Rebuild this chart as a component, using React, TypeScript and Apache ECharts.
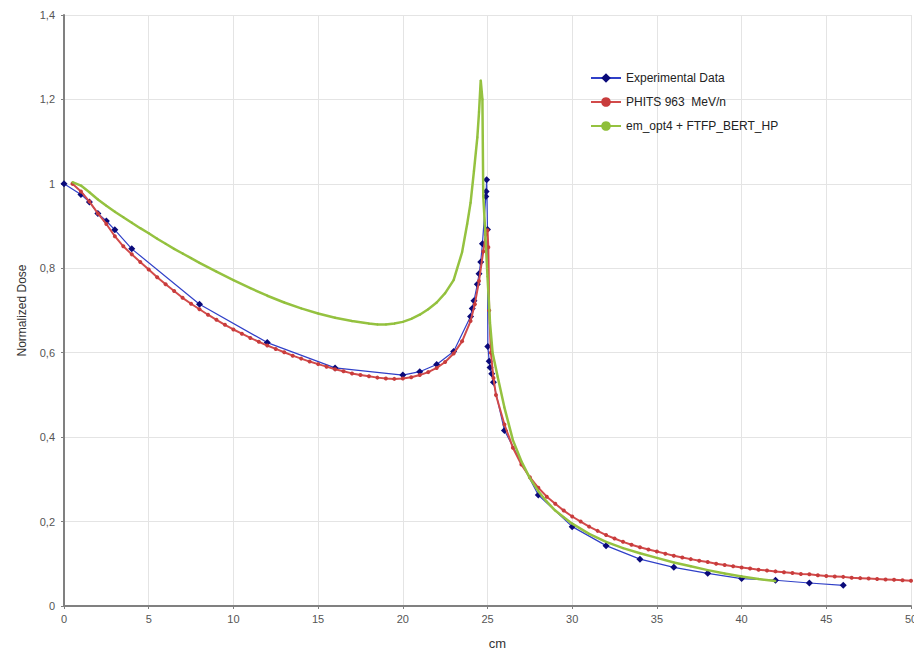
import React, { useEffect, useRef } from "react";
import * as echarts from "echarts";

const xTicks = [0, 5, 10, 15, 20, 25, 30, 35, 40, 45, 50];
const yTickLabels: Record<string, string> = { "0": "0", "0.2": "0,2", "0.4": "0,4", "0.6": "0,6", "0.8": "0,8", "1": "1", "1.2": "1,2", "1.4": "1,4" };

const seriesNames = ["Experimental Data", "PHITS 963  MeV/n", "em_opt4 + FTFP_BERT_HP"];

const expData: [number, number][] = [
  [0, 1.0], [1, 0.975], [1.5, 0.957], [2, 0.93], [2.5, 0.912], [3, 0.891], [4, 0.846],
  [8, 0.715], [12, 0.624], [16, 0.564], [20, 0.547], [21, 0.555], [22, 0.572], [23, 0.603],
  [24, 0.686], [24.1, 0.705], [24.2, 0.723], [24.4, 0.762], [24.5, 0.787], [24.6, 0.815],
  [24.7, 0.858], [24.9, 0.97], [24.92, 0.982], [24.95, 1.01], [25.0, 0.892], [25.02, 0.615],
  [25.1, 0.58], [25.15, 0.565], [25.25, 0.55], [25.35, 0.53], [26, 0.416], [28, 0.263],
  [30, 0.188], [32, 0.143], [34, 0.111], [36, 0.0915], [38, 0.0773], [40, 0.065], [42, 0.061],
  [44, 0.0545], [46, 0.049],
];

const phitsData: [number, number][] = [
  [0.5, 1.0], [1, 0.982], [1.5, 0.958], [2, 0.93], [2.5, 0.905], [3, 0.876], [3.5, 0.852], [4, 0.833],
  [4.5, 0.815], [5, 0.797], [5.5, 0.779], [6, 0.762], [6.5, 0.746], [7, 0.73], [7.5, 0.716], [8, 0.703],
  [8.5, 0.69], [9, 0.678], [9.5, 0.666], [10, 0.655], [10.5, 0.645], [11, 0.635], [11.5, 0.626],
  [12, 0.617], [12.5, 0.609], [13, 0.601], [13.5, 0.593], [14, 0.586], [14.5, 0.579], [15, 0.573],
  [15.5, 0.567], [16, 0.561], [16.5, 0.556], [17, 0.551], [17.5, 0.547], [18, 0.544], [18.5, 0.541],
  [19, 0.539], [19.5, 0.538], [20, 0.539], [20.5, 0.542], [21, 0.547], [21.5, 0.554], [22, 0.564],
  [22.5, 0.578], [23, 0.598], [23.5, 0.627], [24, 0.675], [24.25, 0.715], [24.5, 0.77], [24.75, 0.84],
  [24.9, 0.88], [25, 0.89], [25.05, 0.85], [25.1, 0.7], [25.2, 0.6], [25.35, 0.54], [25.5, 0.5],
  [26, 0.43], [26.5, 0.375], [27, 0.335], [27.5, 0.305], [28, 0.28], [28.5, 0.259], [29, 0.242],
  [29.5, 0.226], [30, 0.212], [30.5, 0.2], [31, 0.188], [31.5, 0.178], [32, 0.168], [32.5, 0.16],
  [33, 0.152], [33.5, 0.145], [34, 0.139], [34.5, 0.134], [35, 0.129], [35.5, 0.124], [36, 0.119],
  [36.5, 0.115], [37, 0.111], [37.5, 0.107], [38, 0.104], [38.5, 0.1], [39, 0.097], [39.5, 0.094],
  [40, 0.091], [40.5, 0.089], [41, 0.086], [41.5, 0.084], [42, 0.082], [42.5, 0.08], [43, 0.078],
  [43.5, 0.076], [44, 0.075], [44.5, 0.073], [45, 0.071], [45.5, 0.07], [46, 0.069], [46.5, 0.067],
  [47, 0.066], [47.5, 0.065], [48, 0.064], [48.5, 0.063], [49, 0.062], [49.5, 0.061], [50, 0.06],
];

const geantData: [number, number][] = [
  [0.5, 1.004], [1, 0.996], [1.5, 0.98], [2, 0.963], [2.5, 0.948], [3, 0.934], [3.5, 0.921], [4, 0.908],
  [4.5, 0.895], [5, 0.883], [5.5, 0.87], [6, 0.858], [6.5, 0.846], [7, 0.835], [7.5, 0.824], [8, 0.813],
  [9, 0.792], [10, 0.772], [11, 0.753], [12, 0.735], [13, 0.719], [14, 0.705], [15, 0.693], [16, 0.683],
  [17, 0.675], [18, 0.669], [18.5, 0.667], [19, 0.667], [19.5, 0.669], [20, 0.673], [20.5, 0.68],
  [21, 0.69], [21.5, 0.703], [22, 0.719], [22.5, 0.741], [23, 0.772], [23.5, 0.838], [23.8, 0.905],
  [24, 0.955], [24.2, 1.03], [24.4, 1.11], [24.5, 1.17], [24.6, 1.245], [24.7, 1.2], [24.75, 0.97],
  [24.85, 0.9], [25, 0.78], [25.15, 0.67], [25.3, 0.6], [25.6, 0.543], [26, 0.47], [26.5, 0.393],
  [27, 0.343], [27.5, 0.303], [28, 0.272], [28.5, 0.247], [29, 0.226], [29.5, 0.21], [30, 0.195],
  [31, 0.171], [32, 0.152], [33, 0.137], [34, 0.125], [35, 0.114], [36, 0.103], [37, 0.094],
  [38, 0.085], [39, 0.077], [40, 0.07], [41, 0.064], [42, 0.059],
];

const FONT = "'Liberation Sans', Arial, sans-serif";

export default function App() {
  const ref = useRef<HTMLDivElement>(null);
  useEffect(() => {
    if (!ref.current) return;
    const chart = echarts.init(ref.current, undefined, { renderer: "svg" });
    chart.setOption({
      animation: false,
      backgroundColor: "#ffffff",
      textStyle: { fontFamily: FONT },
      grid: { left: 64, right: 3, top: 15, bottom: 45, containLabel: false, outerBoundsMode: "none" },
      legend: {
        orient: "vertical",
        left: 585,
        top: 67,
        itemWidth: 30,
        itemHeight: 12,
        itemGap: 12,
        data: seriesNames,
        textStyle: { fontFamily: FONT, fontSize: 12, color: "#222" },
      },
      xAxis: {
        type: "value",
        min: xTicks[0],
        max: xTicks[xTicks.length - 1],
        interval: 5,
        name: "cm",
        nameLocation: "middle",
        nameGap: 31,
        nameTextStyle: { fontFamily: FONT, fontSize: 13, color: "#333", padding: [0, 0, 0, 20] },
        axisLine: { lineStyle: { color: "#808080", width: 2 } },
        axisTick: { show: true, length: 3, lineStyle: { color: "#808080" } },
        axisLabel: { fontFamily: FONT, fontSize: 11, color: "#555", margin: 7 },
        splitLine: { show: true, lineStyle: { color: "#e4e4e4", width: 1 } },
      },
      yAxis: {
        type: "value",
        min: 0,
        max: 1.4,
        interval: 0.2,
        name: "Normalized Dose",
        nameLocation: "middle",
        nameGap: 36,
        nameTextStyle: { fontFamily: FONT, fontSize: 12, color: "#333" },
        axisLine: { show: true, lineStyle: { color: "#808080", width: 2 } },
        axisTick: { show: true, length: 3, lineStyle: { color: "#808080" } },
        axisLabel: {
          fontFamily: FONT,
          fontSize: 11,
          color: "#555",
          margin: 9,
          formatter: (v: number) => yTickLabels[String(Math.round(v * 10) / 10)] ?? String(v),
        },
        splitLine: { show: true, lineStyle: { color: "#e4e4e4", width: 1 } },
      },
      series: [
        {
          name: seriesNames[0],
          type: "line",
          data: expData,
          symbol: "diamond",
          symbolSize: 7,
          itemStyle: { color: "#0a0a7a" },
          lineStyle: { color: "#3040c8", width: 1.2 },
          z: 3,
        },
        {
          name: seriesNames[1],
          type: "line",
          data: phitsData,
          symbol: "circle",
          symbolSize: 4,
          itemStyle: { color: "#c83c3c" },
          lineStyle: { color: "#d24a4a", width: 2 },
          z: 4,
        },
        {
          name: seriesNames[2],
          type: "line",
          data: geantData,
          symbol: "circle",
          symbolSize: 2,
          itemStyle: { color: "#8fbf3a" },
          lineStyle: { color: "#95c240", width: 2.5 },
          z: 5,
        },
      ],
    });
    return () => chart.dispose();
  }, []);
  return <div ref={ref} style={{ width: 914, height: 651, position: "absolute", left: 0, top: 0 }} />;
}
